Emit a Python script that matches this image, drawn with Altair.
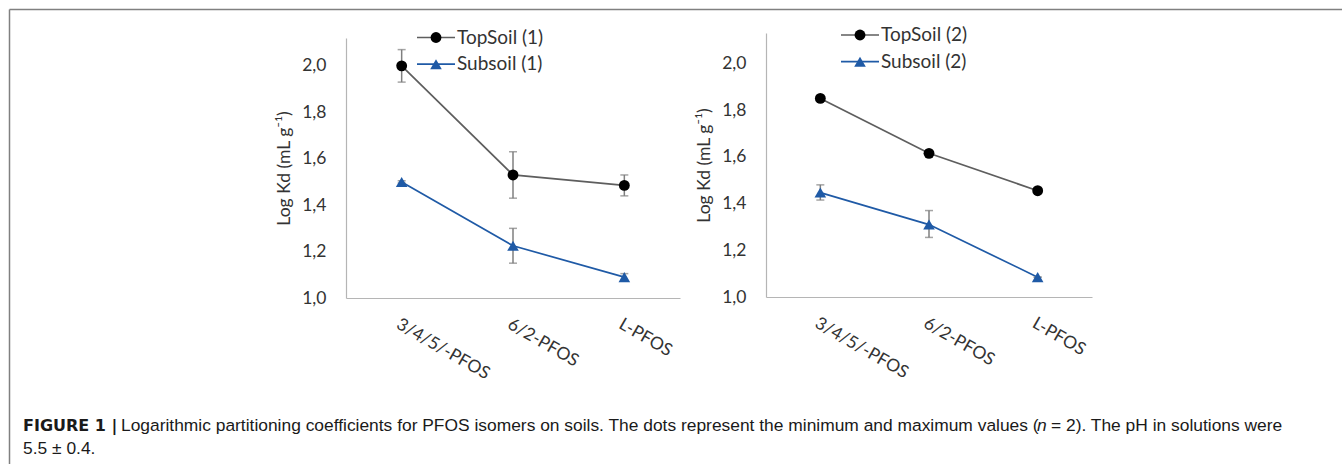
import altair as alt
import pandas as pd

# ---------------- data ----------------
categories = ["3/4/5/-PFOS", "6/2-PFOS", "L-PFOS"]
series_1 = ["TopSoil (1)", "Subsoil (1)"]
series_2 = ["TopSoil (2)", "Subsoil (2)"]

top1 = [2.00, 1.53, 1.485]
top1_min = [1.93, 1.43, 1.44]
top1_max = [2.07, 1.63, 1.53]
sub1 = [1.50, 1.225, 1.09]
sub1_min = [1.495, 1.15, 1.075]
sub1_max = [1.505, 1.30, 1.105]

top2 = [1.85, 1.615, 1.455]
top2_min = [1.85, 1.605, 1.455]
top2_max = [1.85, 1.625, 1.455]
sub2 = [1.447, 1.31, 1.085]
sub2_min = [1.415, 1.255, 1.085]
sub2_max = [1.48, 1.37, 1.085]

y_ticks = [1.0, 1.2, 1.4, 1.6, 1.8, 2.0]
y_title = "Log Kd (mL g\u207b\u00b9)"

cap_bold = "FIGURE 1 |"
cap_a = ("Logarithmic partitioning coefficients for PFOS isomers on soils. "
         "The dots represent the minimum and maximum values (")
cap_n = "n"
cap_b = "= 2). The pH in solutions were"
cap_line2 = "5.5 \u00b1 0.4."

# ---------------- style ----------------
W, H = 1342, 464
FONT = "Lato"
CAP_FONT = "Liberation Sans"
TXT = "#333333"
GRAY = "#5e5e5e"
BLUE = "#1f5aa6"
ERR = "#7f7f7f"
AXIS = "#b5b5b5"
FS = 17.5
LEG_FS = 19
CAP_FS = 17.4

one = pd.DataFrame({"k": [0]})


def frame(names, top, tmin, tmax, sub, smin, smax):
    rows = []
    for name, v, lo, hi in ((names[0], top, tmin, tmax), (names[1], sub, smin, smax)):
        for c, a, b, d in zip(categories, v, lo, hi):
            rows.append({"cat": c, "series": name, "value": a, "lo": b, "hi": d})
    return pd.DataFrame(rows)


def legend(names, cx, y0, dy, text_x):
    layers = []
    for i, (name, col, shp, mcol, size) in enumerate(
            [(names[0], GRAY, "circle", "#000000", 118),
             (names[1], BLUE, "triangle-up", BLUE, 135)]):
        yy = y0 + i * dy
        layers.append(alt.Chart(one).mark_rule(color=col, strokeWidth=1.7).encode(
            x=alt.value(cx - 19), x2=alt.value(cx + 19), y=alt.value(yy)))
        layers.append(alt.Chart(one).mark_point(filled=True, shape=shp, size=size,
                                                color=mcol, opacity=1).encode(
            x=alt.value(cx), y=alt.value(yy)))
        layers.append(alt.Chart(one).mark_text(align="left", baseline="middle", font=FONT,
                                               fontSize=LEG_FS, color=TXT).encode(
            x=alt.value(text_x), y=alt.value(yy), text=alt.value(name)))
    return layers


def panel(df, names, x_range, y_range, y_dom, axis_y):
    xs = alt.Scale(type="point", domain=categories, range=x_range, padding=0.5)
    ys = alt.Scale(domain=y_dom, range=y_range, zero=False, nice=False)
    xax = alt.Axis(orient="bottom", offset=axis_y - H, title=None, grid=False,
                   ticks=False, tickSize=0, domainColor=AXIS, domainWidth=1.2,
                   labelAngle=30, labelAlign="left", labelBaseline="top",
                   labelPadding=17, labelFont=FONT, labelFontSize=FS,
                   labelColor=TXT, labelOverlap=False)
    yax = alt.Axis(orient="left", offset=-x_range[0], values=y_ticks, grid=False,
                   ticks=False, tickSize=0, domainColor=AXIS, domainWidth=1.2,
                   labelExpr="replace(format(datum.value, '.1f'), '.', ',')",
                   labelPadding=20, labelFont=FONT, labelFontSize=FS,
                   labelColor=TXT, title=y_title, titleFont=FONT,
                   titleFontSize=FS, titleFontWeight="normal", titleColor=TXT,
                   titlePadding=8)
    X = alt.X("cat:N", scale=xs, sort=categories, axis=xax)
    Y = alt.Y("value:Q", scale=ys, axis=yax)
    base = alt.Chart(df)

    lines = base.mark_line(strokeWidth=1.7).encode(
        X, Y,
        color=alt.Color("series:N", scale=alt.Scale(domain=names, range=[GRAY, BLUE]),
                        legend=None),
    )
    bars = base.mark_rule(color=ERR, strokeWidth=1.5).encode(
        X, alt.Y("lo:Q", scale=ys, axis=yax), y2=alt.Y2("hi:Q"))
    cap_lo = base.mark_tick(color=ERR, orient="horizontal", size=8, thickness=1.5).encode(
        X, alt.Y("lo:Q", scale=ys, axis=yax))
    cap_hi = base.mark_tick(color=ERR, orient="horizontal", size=8, thickness=1.5).encode(
        X, alt.Y("hi:Q", scale=ys, axis=yax))
    pts_top = base.transform_filter(alt.datum.series == names[0]).mark_point(
        filled=True, shape="circle", size=118, color="#000000", opacity=1).encode(X, Y)
    pts_sub = base.transform_filter(alt.datum.series == names[1]).mark_point(
        filled=True, shape="triangle-up", size=135, color=BLUE, opacity=1).encode(X, Y)
    return alt.layer(lines, bars, cap_lo, cap_hi, pts_top, pts_sub)


df1 = frame(series_1, top1, top1_min, top1_max, sub1, sub1_min, sub1_max)
df2 = frame(series_2, top2, top2_min, top2_max, sub2, sub2_min, sub2_max)

p1 = panel(df1, series_1, [346, 680], [298, 38], [1.0, 2.12], 298)
p2 = panel(df2, series_2, [766, 1092], [297, 33], [1.0, 2.13], 297)
leg1 = legend(series_1, 436, 37.5, 26.7, 457)
leg2 = legend(series_2, 860, 35, 26.7, 881)


def txt(s, x, y, weight="normal", style="normal", size=CAP_FS, font=CAP_FONT):
    return alt.Chart(one).mark_text(
        align="left", baseline="alphabetic", font=font, fontSize=size,
        fontWeight=weight, fontStyle=style, color="#1a1a1a").encode(
        x=alt.value(x), y=alt.value(y), text=alt.value(s))


caption = alt.layer(
    txt(cap_bold, 23, 431, weight="bold", size=16, font="DejaVu Sans"),
    txt(cap_a, 121, 431),
    txt(cap_n, 1037, 431, style="italic"),
    txt(cap_b, 1051, 431),
    txt(cap_line2, 23, 454),
)

border_top = alt.Chart(one).mark_rule(color="#808080", strokeWidth=1.5).encode(
    x=alt.value(9.5), x2=alt.value(W), y=alt.value(9.5))
border_left = alt.Chart(one).mark_rule(color="#808080", strokeWidth=1.5).encode(
    x=alt.value(9.5), y=alt.value(9.5), y2=alt.value(H))

chart = alt.layer(p1, p2, *leg1, *leg2, caption, border_top, border_left).resolve_scale(
    x="independent", y="independent", color="independent",
).properties(
    width=W, height=H, padding=0,
    autosize=alt.AutoSizeParams(type="none"),
    background="white",
).configure_view(strokeWidth=0)

chart.save("out.html", embed_options={"renderer": "svg", "actions": False})
